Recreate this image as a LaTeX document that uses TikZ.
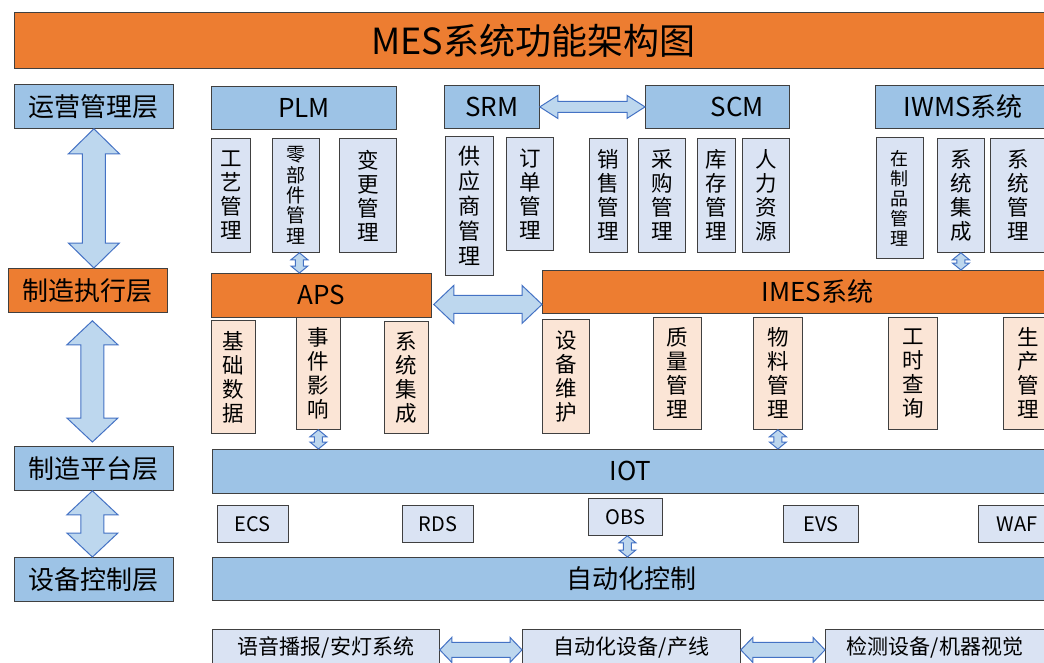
\documentclass[tikz,border=0pt]{standalone}
\usepackage{fontspec}
\setmainfont{Noto Sans CJK SC}
\usetikzlibrary{calc}
\definecolor{layblue}{HTML}{9DC3E6}
\definecolor{mesorange}{HTML}{ED7D31}
\definecolor{subblue}{HTML}{DAE3F3}
\definecolor{subpeach}{HTML}{FBE5D6}
\definecolor{bordergray}{HTML}{404040}
\definecolor{arrfill}{HTML}{BDD7EE}
\definecolor{arrline}{HTML}{4472C4}
\tikzset{
  bx/.style={rectangle, draw=bordergray, line width=0.8pt, inner sep=0pt, anchor=north west, text=black},
  bluebox/.style={bx, fill=layblue, font=\fontsize{26}{28}\selectfont},
  orangebox/.style={bx, fill=mesorange, font=\fontsize{26}{28}\selectfont},
  subb/.style={bx, fill=subblue, align=center, font=\fontsize{21.5}{24}\selectfont},
  subp/.style={bx, fill=subpeach, align=center, font=\fontsize{21.5}{24}\selectfont},
  smallbox/.style={bx, fill=subblue, font=\fontsize{20}{22}\selectfont},
  darrow/.style={fill=arrfill, draw=arrline, line width=1pt, line join=miter}
}
\newcommand\vdarrow[5]{%
  \draw[darrow] let \p1=#1, \p2=#2 in
    (\x1,\y1) -- (\x1+#4pt,\y1-#5pt) -- (\x1+#3pt,\y1-#5pt) -- (\x1+#3pt,\y2+#5pt)
    -- (\x1+#4pt,\y2+#5pt) -- (\x1,\y2) -- (\x1-#4pt,\y2+#5pt) -- (\x1-#3pt,\y2+#5pt)
    -- (\x1-#3pt,\y1-#5pt) -- (\x1-#4pt,\y1-#5pt) -- cycle;}
\newcommand\hdarrow[5]{%
  \draw[darrow] let \p1=#1, \p2=#2 in
    (\x1,\y1) -- (\x1+#5pt,\y1+#4pt) -- (\x1+#5pt,\y1+#3pt) -- (\x2-#5pt,\y1+#3pt)
    -- (\x2-#5pt,\y1+#4pt) -- (\x2,\y1) -- (\x2-#5pt,\y1-#4pt) -- (\x2-#5pt,\y1-#3pt)
    -- (\x1+#5pt,\y1-#3pt) -- (\x1+#5pt,\y1-#4pt) -- cycle;}
\begin{document}
\begin{tikzpicture}[x=1pt,y=-1pt]
\useasboundingbox (0,0) rectangle (1044,662);
\clip (0,0) rectangle (1044,662);
\fill[white] (0,0) rectangle (1044,662);
% title
\node[bx, fill=mesorange, minimum width=1038pt, minimum height=56pt, font=\fontsize{36}{40}\selectfont] (title) at (14,12) {MES系统功能架构图};
% layers
\node[bluebox, minimum width=159pt, minimum height=44pt] (l1) at (14,84) {运营管理层};
\node[orangebox, minimum width=159pt, minimum height=44pt] (l2) at (8,268) {制造执行层};
\node[bluebox, minimum width=159pt, minimum height=44pt] (l3) at (14,446) {制造平台层};
\node[bluebox, minimum width=159pt, minimum height=44pt] (l4) at (14,557) {设备控制层};
% top systems
\node[bluebox, minimum width=185pt, minimum height=43pt] (plm) at (211,86) {PLM};
\node[bluebox, minimum width=95pt, minimum height=43pt] (srm) at (444,85) {SRM};
\node[bluebox, minimum width=144pt, minimum height=43pt] (scm) at (645,85) {\hspace*{40pt}SCM};
\node[bluebox, minimum width=176pt, minimum height=43pt] (iwms) at (875,85) {IWMS系统};
% PLM subs
\node[subb, minimum width=39pt, minimum height=114pt] (plm1) at (211,138) {工\\艺\\管\\理};
\node[subb, minimum width=47pt, minimum height=114pt, font=\fontsize{19}{20.4}\selectfont] (plm2) at (272,138) {零\\部\\件\\管\\理};
\node[subb, minimum width=57pt, minimum height=114pt] (plm3) at (339,138) {变\\更\\管\\理};
% SRM subs
\node[subb, minimum width=48pt, minimum height=139pt, font=\fontsize{22}{25}\selectfont] (srm1) at (445,136) {供\\应\\商\\管\\理};
\node[subb, minimum width=47pt, minimum height=113pt] (srm2) at (506,137) {订\\单\\管\\理};
% SCM subs
\node[subb, minimum width=38pt, minimum height=114pt] (scm1) at (589,138) {销\\售\\管\\理};
\node[subb, minimum width=47pt, minimum height=114pt] (scm2) at (638,138) {采\\购\\管\\理};
\node[subb, minimum width=38pt, minimum height=114pt] (scm3) at (697,138) {库\\存\\管\\理};
\node[subb, minimum width=47pt, minimum height=114pt] (scm4) at (742,138) {人\\力\\资\\源};
% IWMS subs
\node[subb, minimum width=47pt, minimum height=121pt, font=\fontsize{18}{20}\selectfont] (iw1) at (876,137) {在\\制\\品\\管\\理};
\node[subb, minimum width=47pt, minimum height=114pt] (iw2) at (937,138) {系\\统\\集\\成};
\node[subb, minimum width=56pt, minimum height=114pt] (iw3) at (990,138) {系\\统\\管\\理};
% execution layer
\node[orangebox, minimum width=220pt, minimum height=44pt] (aps) at (211,273) {APS};
\node[orangebox, minimum width=550pt, minimum height=43pt] (imes) at (542,270) {IMES系统};
% APS subs
\node[subp, minimum width=44pt, minimum height=113pt] (aps1) at (211,320) {基\\础\\数\\据};
\node[subp, minimum width=44pt, minimum height=112pt] (aps2) at (296,317) {事\\件\\影\\响};
\node[subp, minimum width=44pt, minimum height=112pt] (aps3) at (384,321) {系\\统\\集\\成};
% IMES subs
\node[subp, minimum width=47pt, minimum height=114pt] (im1) at (542,319) {设\\备\\维\\护};
\node[subp, minimum width=48pt, minimum height=112pt] (im2) at (653,317) {质\\量\\管\\理};
\node[subp, minimum width=49pt, minimum height=112pt] (im3) at (753,317) {物\\料\\管\\理};
\node[subp, minimum width=49pt, minimum height=112pt] (im4) at (888,317) {工\\时\\查\\询};
\node[subp, minimum width=50pt, minimum height=112pt] (im5) at (1003,317) {生\\产\\管\\理};
% platform layer
\node[bluebox, minimum width=836pt, minimum height=44pt] (iot) at (212,449) {IOT};
\node[smallbox, minimum width=71pt, minimum height=37pt] (ecs) at (217,505) {ECS};
\node[smallbox, minimum width=71pt, minimum height=37pt] (rds) at (402,505) {RDS};
\node[smallbox, minimum width=74pt, minimum height=37pt] (obs) at (588,498) {OBS};
\node[smallbox, minimum width=75pt, minimum height=37pt] (evs) at (783,505) {EVS};
\node[smallbox, minimum width=77pt, minimum height=37pt] (waf) at (978,505) {WAF};
% control layer
\node[bluebox, minimum width=838pt, minimum height=43pt] (auto) at (212,557) {自动化控制};
\node[bx, fill=subblue, minimum width=227pt, minimum height=36pt, font=\fontsize{21}{24}\selectfont] (b1) at (212,629) {语音播报/安灯系统};
\node[bx, fill=subblue, minimum width=218pt, minimum height=36pt, font=\fontsize{21}{24}\selectfont] (b2) at (522,629) {自动化设备/产线};
\node[bx, fill=subblue, minimum width=219pt, minimum height=36pt, font=\fontsize{21}{24}\selectfont] (b3) at (825,629) {检测设备/机器视觉};
% layer arrows
\vdarrow{(l1.south)}{(l2.north)}{11.5}{25.5}{25}
\vdarrow{([xshift=4.5pt,yshift=-8pt]l2.south)}{([yshift=4pt]l3.north)}{11.5}{25.5}{24}
\vdarrow{([xshift=-1.5pt]l3.south)}{(l4.north)}{11.5}{25.5}{24}
% small arrows
\vdarrow{([xshift=3.5pt]plm2.south)}{([xshift=3.5pt]plm2.south |- aps.north)}{4}{8.5}{7}
\vdarrow{(iw2.south)}{(iw2.south |- imes.north)}{4}{8.5}{7}
\vdarrow{(aps2.south)}{(aps2.south |- iot.north)}{4}{8.5}{7}
\vdarrow{(im3.south)}{(im3.south |- iot.north)}{4}{8.5}{7}
\vdarrow{([xshift=2pt]obs.south)}{([xshift=2pt]obs.south |- auto.north)}{4}{8.5}{7}
% horizontal arrows
\hdarrow{(srm.east)}{(scm.west)}{5.5}{11.5}{18}
\hdarrow{([xshift=2pt,yshift=-9pt]aps.east)}{(imes.west)}{9}{19}{20}
\hdarrow{([yshift=-2.5pt]b1.east)}{(b2.west)}{7.5}{12.5}{12}
\hdarrow{([yshift=-2.5pt]b2.east)}{(b3.west)}{7.5}{12.5}{12}
\end{tikzpicture}
\end{document}
